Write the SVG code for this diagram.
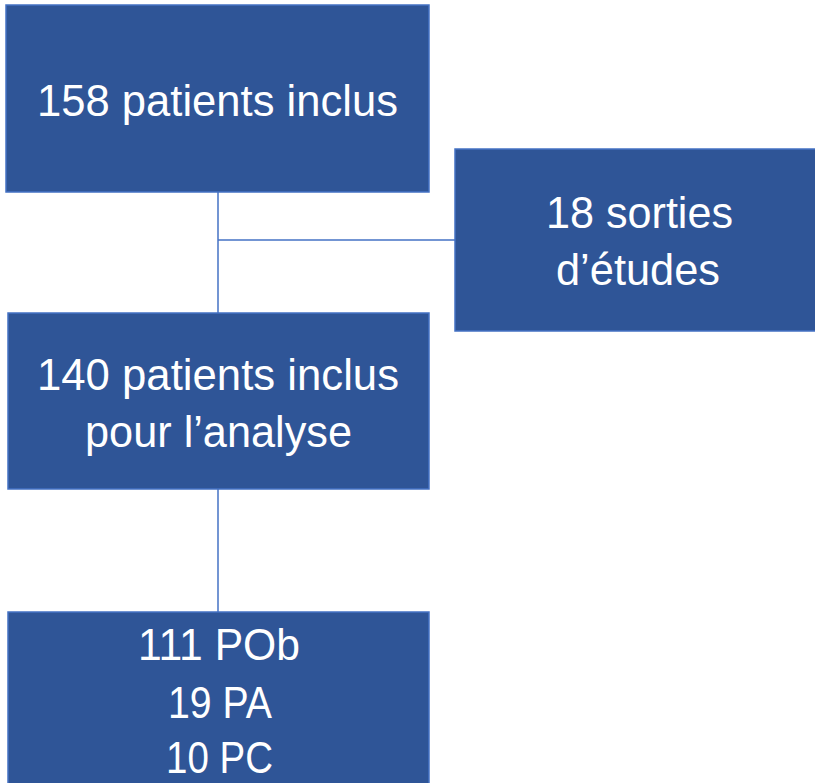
<svg xmlns="http://www.w3.org/2000/svg" width="815" height="783" viewBox="0 0 815 783">
<style>
.box{fill:#2F5597;stroke:#4472C4;stroke-width:1.5}
.t{fill:#FFFFFF;font-family:"Liberation Sans",Arial,sans-serif;font-size:44px;text-anchor:middle}
.c{stroke:#4472C4;stroke-width:1.5;fill:none}
</style>
<rect width="815" height="783" fill="#FFFFFF"/>
<g id="connectors">
<line class="c" x1="218" y1="192" x2="218" y2="313"/>
<line class="c" x1="218" y1="240" x2="455" y2="240"/>
<line class="c" x1="218" y1="489" x2="218" y2="612"/>
</g>
<g id="n1">
<rect class="box" x="6" y="5" width="423" height="187"/>
<text class="t" x="217.5" y="116" textLength="361" lengthAdjust="spacingAndGlyphs">158 patients inclus</text>
</g>
<g id="n2">
<rect class="box" x="455" y="149" width="372" height="182"/>
<text class="t" x="639.5" y="228" textLength="187" lengthAdjust="spacingAndGlyphs">18 sorties</text>
<text class="t" x="638" y="285" textLength="164" lengthAdjust="spacingAndGlyphs">d’études</text>
</g>
<g id="n3">
<rect class="box" x="8" y="313" width="421" height="176"/>
<text class="t" x="218" y="390" textLength="362" lengthAdjust="spacingAndGlyphs">140 patients inclus</text>
<text class="t" x="218.5" y="447" textLength="267" lengthAdjust="spacingAndGlyphs">pour l’analyse</text>
</g>
<g id="n4">
<rect class="box" x="8" y="612" width="421" height="180"/>
<text class="t" x="219" y="660" textLength="162" lengthAdjust="spacingAndGlyphs">111 POb</text>
<text class="t" x="220" y="718" textLength="104" lengthAdjust="spacingAndGlyphs">19 PA</text>
<text class="t" x="219.5" y="773" textLength="107" lengthAdjust="spacingAndGlyphs">10 PC</text>
</g>
</svg>
